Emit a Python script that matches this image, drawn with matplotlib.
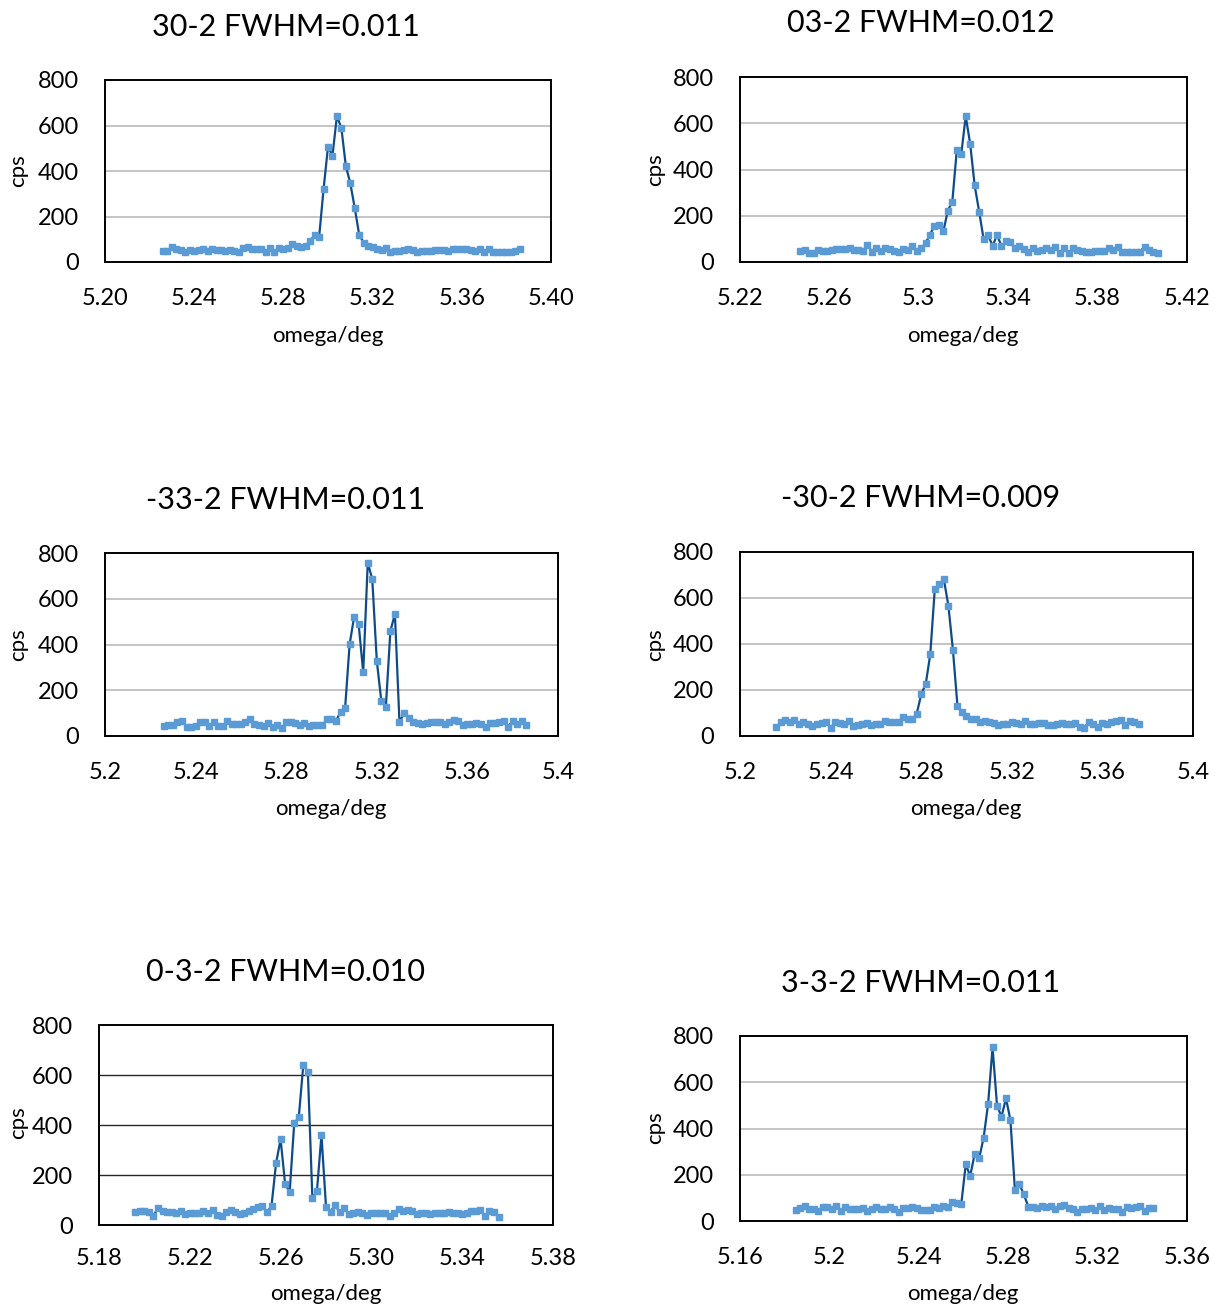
import matplotlib
matplotlib.use("Agg")
import matplotlib.pyplot as plt

plt.rcParams['font.family'] = ['Lato', 'DejaVu Sans']

W, H = 1215, 1307

# ---------------- data ----------------
titles = ["30-2 FWHM=0.011", "03-2 FWHM=0.012", "-33-2 FWHM=0.011",
          "-30-2 FWHM=0.009", "0-3-2 FWHM=0.010", "3-3-2 FWHM=0.011"]

omega_start = [5.226, 5.247, 5.226, 5.216, 5.196, 5.185]
omega_step = 0.002

cps_1 = [48, 48, 68, 57, 52, 45, 53, 50, 52, 56, 47, 58, 52, 51, 48, 53, 50, 46, 62, 64,
         56, 56, 55, 46, 60, 46, 62, 55, 60, 80, 70, 67, 72, 92, 119, 108, 319, 507, 467, 642,
         589, 422, 346, 237, 119, 85, 72, 65, 58, 52, 60, 45, 50, 50, 53, 55, 52, 45, 48, 50,
         50, 52, 54, 53, 50, 56, 58, 57, 55, 53, 50, 55, 42, 55, 42, 46, 46, 46, 44, 50, 55]
cps_2 = [49, 52, 40, 37, 50, 46, 49, 52, 56, 56, 55, 59, 52, 52, 48, 75, 45, 60, 46, 59,
         55, 46, 45, 56, 52, 69, 46, 59, 81, 118, 157, 160, 134, 222, 261, 484, 467, 631,
         510, 331, 218, 99, 118, 69, 117, 69, 89, 85, 59, 69, 56, 45, 59, 48, 52, 59, 52, 66,
         40, 59, 40, 59, 52, 48, 45, 42, 48, 49, 49, 59, 52, 63, 45, 45, 45, 45, 45, 66, 52, 45, 40]
cps_3 = [44, 48, 48, 63, 66, 41, 41, 44, 63, 63, 44, 63, 44, 44, 66, 52, 51, 51, 63, 74,
         52, 48, 44, 55, 41, 48, 35, 61, 60, 58, 48, 58, 44, 48, 48, 48, 74, 73, 66, 106, 121,
         401, 522, 488, 278, 758, 685, 328, 153, 128, 459, 533,
         61, 99, 80, 63, 58, 52, 58, 60, 60, 63, 52, 60, 70, 67, 48, 51, 51, 55, 51, 41,
         55, 55, 60, 67, 41, 67, 51, 66, 48]
cps_4 = [38, 62, 70, 59, 71, 52, 59, 51, 45, 52, 55, 59, 36, 59, 55, 51, 65, 43, 48, 52,
         55, 48, 51, 52, 67, 62, 59, 62, 83, 72, 74, 96, 181, 226,
         355, 639, 659, 681, 567, 375, 132,
         103, 86, 74, 72, 62, 65, 62, 55, 48, 51, 52, 62, 58, 52, 65, 52, 51, 55, 58, 48,
         48, 51, 55, 51, 52, 55, 41, 36, 62, 52, 41, 55, 51, 59, 67, 70, 48, 67, 62, 51]
cps_5 = [51, 57, 55, 51, 36, 69, 57, 53, 51, 47, 56, 43, 49, 49, 49, 55, 49, 60, 40, 36,
         51, 60, 53, 44, 49, 56, 64, 71, 76, 51, 77, 247, 343, 163, 133, 407, 431, 640, 613, 107,
         135, 360, 73, 53, 80, 51, 67, 44, 49, 53, 49, 41, 47, 47, 49, 47, 36, 49, 64, 55,
         60, 57, 44, 47, 49, 43, 49, 47, 49, 51, 47, 49, 43, 49, 57, 56, 60, 37, 56, 53, 32]
cps_6 = [48, 55, 66, 50, 52, 45, 62, 59, 50, 65, 45, 62, 52, 52, 52, 55, 43, 52, 62, 52,
         52, 62, 52, 40, 55, 58, 59, 55, 48, 48, 48, 62, 58, 66, 62, 81, 76,
         73, 245, 195, 290, 271, 360, 506, 751, 499, 451, 530, 437, 134, 159, 115,
         62, 62, 55, 66, 62, 66, 50, 65, 69, 58, 50, 37, 50, 52, 55, 48, 65, 48, 55, 52,
         52, 40, 59, 55, 62, 66, 43, 55, 55]
cps_all = [cps_1, cps_2, cps_3, cps_4, cps_5, cps_6]

xticks_1 = [5.20, 5.24, 5.28, 5.32, 5.36, 5.40]
xticks_2 = [5.22, 5.26, 5.30, 5.34, 5.38, 5.42]
xticks_3 = [5.20, 5.24, 5.28, 5.32, 5.36, 5.40]
xticks_4 = [5.20, 5.24, 5.28, 5.32, 5.36, 5.40]
xticks_5 = [5.18, 5.22, 5.26, 5.30, 5.34, 5.38]
xticks_6 = [5.16, 5.20, 5.24, 5.28, 5.32, 5.36]
xticks_all = [xticks_1, xticks_2, xticks_3, xticks_4, xticks_5, xticks_6]

xlabels_1 = ["5.20", "5.24", "5.28", "5.32", "5.36", "5.40"]
xlabels_2 = ["5.22", "5.26", "5.3", "5.34", "5.38", "5.42"]
xlabels_3 = ["5.2", "5.24", "5.28", "5.32", "5.36", "5.4"]
xlabels_4 = ["5.2", "5.24", "5.28", "5.32", "5.36", "5.4"]
xlabels_5 = ["5.18", "5.22", "5.26", "5.30", "5.34", "5.38"]
xlabels_6 = ["5.16", "5.2", "5.24", "5.28", "5.32", "5.36"]
xlabels_all = [xlabels_1, xlabels_2, xlabels_3, xlabels_4, xlabels_5, xlabels_6]

yticks = [0, 200, 400, 600, 800]

# ---------------- layout (pixels) ----------------
boxes = [(105, 551, 80, 262), (740, 1187, 77, 262),
         (105, 558, 553, 736), (740, 1193, 552, 736),
         (99, 553, 1025, 1225), (740, 1187, 1036, 1221)]
xpads = [19, 19, 19, 19, 16.5, 19]
title_pos = [(286, 27), (921, 23), (286, 500), (921, 498), (286, 972), (921, 983)]
ylab_pos = [(18, 171), (655, 170), (18, 645), (655, 645), (18, 1123), (655, 1128)]
xlab_pos = [(328, 336), (963, 336), (331, 809), (966, 809), (326, 1294), (963, 1294)]
grid_colors = ['#BFBFBF', '#BFBFBF', '#BFBFBF', '#BFBFBF', '#262626', '#BFBFBF']

LINE = '#0E4B8A'
MARK = '#5B9BD5'

fig = plt.figure(figsize=(W / 100, H / 100), dpi=100)

for k in range(6):
    l, r, t, b = boxes[k]
    ax = fig.add_axes([l / W, 1 - b / H, (r - l) / W, (b - t) / H])
    ys = cps_all[k]
    xs = [omega_start[k] + omega_step * i for i in range(len(ys))]
    ax.plot(xs, ys, color=LINE, lw=1.6, marker='s', markersize=5,
            markerfacecolor=MARK, markeredgecolor=MARK, zorder=3)
    ticks = xticks_all[k]
    ax.set_xlim(ticks[0], ticks[-1])
    ax.set_ylim(0, 800)
    ax.set_xticks(ticks)
    ax.set_xticklabels(xlabels_all[k])
    ax.set_yticks(yticks)
    ax.set_yticklabels([str(v) for v in yticks])
    ax.tick_params(axis='both', length=0, labelsize=17, colors='black')
    ax.tick_params(axis='x', pad=xpads[k])
    ax.tick_params(axis='y', pad=19)
    for yv in yticks[1:-1]:
        ax.axhline(yv, color=grid_colors[k], lw=1.3 if k != 4 else 1.0, zorder=1)
    for s in ax.spines.values():
        s.set_color('black')
        s.set_linewidth(1.4)
    tx, ty = title_pos[k]
    fig.text(tx / W, 1 - ty / H, titles[k], ha='center', va='center', fontsize=22)
    lx, ly = ylab_pos[k]
    fig.text(lx / W, 1 - ly / H, 'cps', ha='center', va='center', fontsize=16, rotation=90)
    xx, xy = xlab_pos[k]
    fig.text(xx / W, 1 - xy / H, 'omega/deg', ha='center', va='center', fontsize=16)

fig.savefig('out.png', dpi=100, facecolor='white')
